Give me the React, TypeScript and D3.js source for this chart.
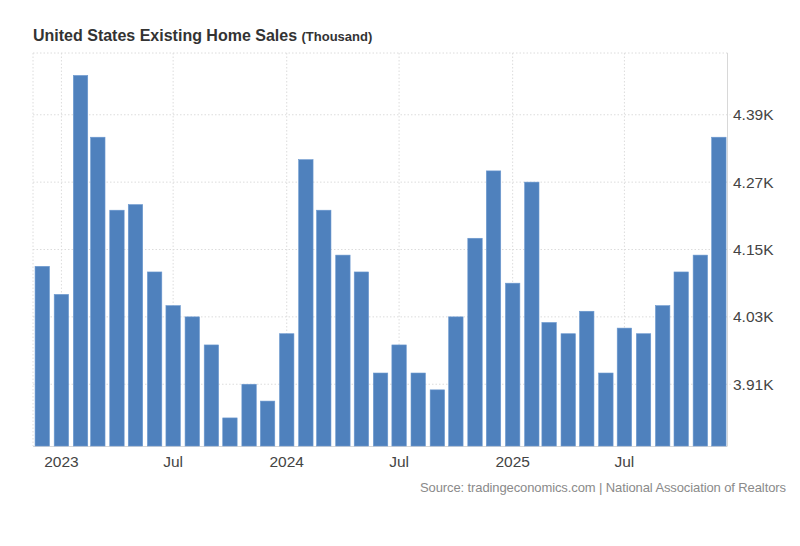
import { useEffect, useRef } from 'react';
import * as d3 from 'd3';

// Monthly existing home sales (thousands, shown as K), Dec 2022 .. Dec 2025
const months = [
  '2022-12', '2023-01', '2023-02', '2023-03', '2023-04', '2023-05', '2023-06',
  '2023-07', '2023-08', '2023-09', '2023-10', '2023-11', '2023-12',
  '2024-01', '2024-02', '2024-03', '2024-04', '2024-05', '2024-06',
  '2024-07', '2024-08', '2024-09', '2024-10', '2024-11', '2024-12',
  '2025-01', '2025-02', '2025-03', '2025-04', '2025-05', '2025-06',
  '2025-07', '2025-08', '2025-09', '2025-10', '2025-11', '2025-12',
];
const sales = [
  4.12, 4.07, 4.46, 4.35, 4.22, 4.23, 4.11,
  4.05, 4.03, 3.98, 3.85, 3.91, 3.88,
  4.00, 4.31, 4.22, 4.14, 4.11, 3.93,
  3.98, 3.93, 3.90, 4.03, 4.17, 4.29,
  4.09, 4.27, 4.02, 4.00, 4.04, 3.93,
  4.01, 4.00, 4.05, 4.11, 4.14, 4.35,
];
const yTicks = [3.91, 4.03, 4.15, 4.27, 4.39];
const xTickDates = ['2023-01', '2023-07', '2024-01', '2024-07', '2025-01', '2025-07'];
const xTickLabels = ['2023', 'Jul', '2024', 'Jul', '2025', 'Jul'];

const W = 800;
const H = 546;
const FONT = '"Liberation Sans", Arial, sans-serif';

export default function App() {
  const svgRef = useRef<SVGSVGElement>(null);

  useEffect(() => {
    document.body.style.margin = '0';
    if (!svgRef.current) return;
    const svg = d3.select(svgRef.current);
    svg.selectAll('*').remove();

    const parse = d3.timeParse('%Y-%m');
    const dates = months.map((m) => parse(m) as Date);

    const left = 33, right = 727.5, top = 53, bottom = 446;

    const x = d3.scaleTime()
      .domain([d3.timeDay.offset(dates[0], -14.6), d3.timeDay.offset(dates[dates.length - 1], 14.6)])
      .range([left, right]);
    const y = d3.scaleLinear().domain([3.8, 4.5]).range([bottom, top]);

    svg.append('rect').attr('width', W).attr('height', H).attr('fill', '#fff');

    // title
    const title = svg.append('text')
      .attr('x', 33).attr('y', 41)
      .attr('font-family', FONT).attr('font-weight', 'bold')
      .attr('fill', '#333');
    title.append('tspan').attr('font-size', 16).text('United States Existing Home Sales ');
    title.append('tspan').attr('font-size', 13).text('(Thousand)');

    // grid
    const grid = svg.append('g').attr('stroke', '#dcdcdc').attr('stroke-dasharray', '1.5,2');
    grid.selectAll('line.h')
      .data(yTicks)
      .join('line')
      .attr('class', 'h')
      .attr('x1', left).attr('x2', right + 3)
      .attr('y1', (d) => y(d)).attr('y2', (d) => y(d));
    grid.selectAll('line.v')
      .data(xTickDates)
      .join('line')
      .attr('class', 'v')
      .attr('x1', (d) => x(parse(d) as Date)).attr('x2', (d) => x(parse(d) as Date))
      .attr('y1', top).attr('y2', bottom);
    grid.append('line').attr('x1', left).attr('x2', right).attr('y1', top).attr('y2', top);
    grid.append('line').attr('x1', left).attr('x2', left).attr('y1', top).attr('y2', bottom);

    // solid frame lines
    svg.append('line').attr('x1', right).attr('x2', right).attr('y1', top).attr('y2', bottom)
      .attr('stroke', '#d8d8d8');
    svg.append('line').attr('x1', left).attr('x2', right).attr('y1', bottom + 0.5).attr('y2', bottom + 0.5)
      .attr('stroke', '#d8d8d8');

    // bars
    const bw = 14.4;
    svg.append('g')
      .selectAll('rect')
      .data(sales)
      .join('rect')
      .attr('x', (_, i) => x(dates[i]) - bw / 2)
      .attr('width', bw)
      .attr('y', (d) => y(d))
      .attr('height', (d) => bottom - y(d))
      .attr('fill', '#4f81bd')
      .attr('stroke', '#6b98cf')
      .attr('stroke-width', 0.6);

    // y labels
    svg.append('g')
      .selectAll('text')
      .data(yTicks)
      .join('text')
      .attr('x', 733)
      .attr('y', (d) => y(d) + 5.5)
      .attr('font-family', FONT).attr('font-size', 15.5)
      .attr('fill', '#444')
      .text((d) => d3.format('.2f')(d) + 'K');

    // x labels
    svg.append('g')
      .selectAll('text')
      .data(xTickDates)
      .join('text')
      .attr('x', (d) => x(parse(d) as Date))
      .attr('y', 467)
      .attr('text-anchor', 'middle')
      .attr('font-family', FONT).attr('font-size', 15.5)
      .attr('fill', '#444')
      .text((_, i) => xTickLabels[i]);

    // source
    svg.append('text')
      .attr('x', 786).attr('y', 492)
      .attr('text-anchor', 'end')
      .attr('font-family', FONT).attr('font-size', 13)
      .attr('fill', '#8a8a8a')
      .attr('textLength', 366)
      .text('Source: tradingeconomics.com | National Association of Realtors');
  }, []);

  return <svg ref={svgRef} width={W} height={H} style={{ display: 'block' }} />;
}
